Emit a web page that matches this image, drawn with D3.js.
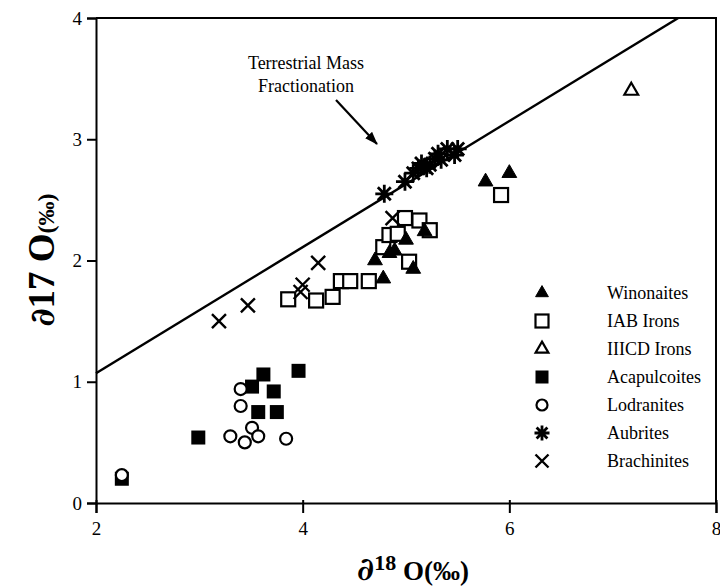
<!DOCTYPE html>
<html><head><meta charset="utf-8">
<script src="https://cdn.jsdelivr.net/npm/d3@7"></script>
<style>body{margin:0;background:#fff}svg{display:block}svg text{font-family:"Liberation Serif","DejaVu Serif","Times New Roman",serif}</style>
</head><body>
<svg id="c" width="720" height="587"></svg>
<script>
const xTicks = [2, 4, 6, 8];
const yTicks = [0, 1, 2, 3, 4];
const winonaites = [[4.70,2.00],[4.78,1.85],[4.84,2.06],[4.89,2.08],[5.00,2.17],[5.07,1.93],[5.18,2.24],[5.77,2.65],[6.00,2.72]];
const iabIrons = [[3.86,1.68],[4.13,1.67],[4.29,1.70],[4.37,1.83],[4.46,1.83],[4.64,1.83],[4.78,2.11],[4.84,2.21],[4.92,2.22],[4.99,2.35],[5.03,1.99],[5.13,2.33],[5.23,2.25],[5.92,2.54]];
const iiicdIrons = [[7.18,3.40]];
const acapulcoites = [[2.25,0.20],[2.99,0.54],[3.51,0.96],[3.57,0.75],[3.62,1.06],[3.72,0.92],[3.75,0.75],[3.96,1.09]];
const lodranites = [[2.25,0.23],[3.30,0.55],[3.40,0.94],[3.40,0.80],[3.44,0.50],[3.51,0.62],[3.57,0.55],[3.84,0.53]];
const aubrites = [[4.79,2.55],[4.99,2.65],[5.07,2.72],[5.12,2.76],[5.15,2.80],[5.20,2.76],[5.23,2.79],[5.28,2.84],[5.31,2.88],[5.34,2.83],[5.40,2.92],[5.47,2.87],[5.50,2.92]];
const brachinites = [[3.19,1.50],[3.47,1.63],[3.98,1.74],[4.00,1.80],[4.15,1.98],[4.87,2.35]];
const tfl = {slope: 0.52, intercept: 0.03};
const legendNames = ["Winonaites","IAB Irons","IIICD Irons","Acapulcoites","Lodranites","Aubrites","Brachinites"];

const svg = d3.select("#c");
const x = d3.scaleLinear().domain([2,8]).range([96,716]);
const y = d3.scaleLinear().domain([0,4]).range([503,18]);

// frame top/right
svg.append("path").attr("d",`M${x(2)},${y(4)}H${x(8)}V${y(0)}`).attr("fill","none").attr("stroke","#000").attr("stroke-width",2);

// axes
const gx = svg.append("g").attr("transform",`translate(0,${y(0)})`)
  .call(d3.axisBottom(x).tickValues(xTicks).tickSize(10).tickPadding(9).tickFormat(d3.format("d")));
const gy = svg.append("g").attr("transform",`translate(${x(2)},0)`)
  .call(d3.axisLeft(y).tickValues(yTicks).tickSize(9).tickPadding(5).tickFormat(d3.format("d")));
[gx,gy].forEach(g=>{
  g.select(".domain").attr("stroke-width",2);
  g.selectAll(".tick line").attr("stroke-width",2);
  g.selectAll("text").attr("font-family",null).attr("font-size",19).attr("fill","#000");
});
gx.selectAll(".tick line").attr("y1",-3);

// terrestrial fractionation line
const xEnd = (4 - tfl.intercept)/tfl.slope;
svg.append("line").attr("x1",x(2)).attr("y1",y(tfl.slope*2+tfl.intercept))
  .attr("x2",x(xEnd)).attr("y2",y(4)).attr("stroke","#000").attr("stroke-width",2.5);

// annotation
const ann = svg.append("text").attr("font-size",18).attr("text-anchor","middle");
ann.append("tspan").attr("x",306).attr("y",69).text("Terrestrial Mass");
ann.append("tspan").attr("x",306).attr("y",92).text("Fractionation");
svg.append("defs").append("marker").attr("id","ah").attr("viewBox","0 0 14 10").attr("refX",13).attr("refY",5)
  .attr("markerWidth",6).attr("markerHeight",4.5).attr("orient","auto").attr("markerUnits","strokeWidth")
  .append("path").attr("d","M0,0L14,5L0,10z").attr("fill","#000");
svg.append("line").attr("x1",336).attr("y1",100).attr("x2",377).attr("y2",144)
  .attr("stroke","#000").attr("stroke-width",2.2).attr("marker-end","url(#ah)");

// marker drawers
function draw(g, type, s){
  const h = s/2;
  if(type==="tri"||type==="otri"){
    g.append("path").attr("d",d3.symbol(d3.symbolTriangle, s*s*0.42)())
      .attr("fill", type==="tri"?"#000":"#fff").attr("stroke","#000").attr("stroke-width",type==="tri"?1:2.2);
  } else if(type==="sq"||type==="osq"){
    g.append("rect").attr("x",-h).attr("y",-h).attr("width",s).attr("height",s)
      .attr("fill", type==="sq"?"#000":"#fff").attr("stroke","#000").attr("stroke-width",type==="sq"?0:2.2);
  } else if(type==="circ"){
    g.append("circle").attr("r",h-1).attr("fill","#fff").attr("stroke","#000").attr("stroke-width",2.2);
  } else if(type==="ast"){
    const r=h+1, d=r*0.72;
    g.append("path").attr("d",`M0,${-r}V${r}M${-r},0H${r}M${-d},${-d}L${d},${d}M${-d},${d}L${d},${-d}`)
      .attr("stroke","#000").attr("stroke-width",2.8).attr("fill","none");
  } else if(type==="x"){
    g.append("path").attr("d",`M${-h},${-h}L${h},${h}M${-h},${h}L${h},${-h}`)
      .attr("stroke","#000").attr("stroke-width",2.4).attr("fill","none");
  }
}
const series = [
  {data: acapulcoites, type:"sq", s:14},
  {data: lodranites, type:"circ", s:14},
  {data: iabIrons, type:"osq", s:14},
  {data: winonaites, type:"tri", s:15},
  {data: iiicdIrons, type:"otri", s:14},
  {data: brachinites, type:"x", s:14},
  {data: aubrites, type:"ast", s:16}
];
series.forEach(sr=>{
  svg.append("g").selectAll("g").data(sr.data).join("g")
    .attr("transform",d=>`translate(${x(d[0])},${y(d[1])})`)
    .each(function(){ draw(d3.select(this), sr.type, sr.s); });
});

// legend
const legendTypes = ["tri","osq","otri","sq","circ","ast","x"];
const ly = d3.scalePoint().domain(legendNames).range([293,461]);
const lg = svg.append("g");
legendNames.forEach((n,i)=>{
  const g = lg.append("g").attr("transform",`translate(542,${ly(n)})`);
  draw(g, legendTypes[i], 13);
  lg.append("text").attr("x",607).attr("y",ly(n)+6).attr("font-size",18).text(n);
});

// axis titles
const xt = svg.append("text").attr("x",413).attr("y",580).attr("text-anchor","middle").attr("font-weight","bold");
xt.append("tspan").attr("font-size",32).style("font-family","'DejaVu Serif'").text("∂");
xt.append("tspan").attr("font-size",22).attr("dy",-10).text("18");
xt.append("tspan").attr("font-size",27).attr("dy",10).text(" O(‰)");

const yt = svg.append("text").attr("transform","translate(54,260) rotate(-90)").attr("text-anchor","middle").attr("font-weight","bold");
yt.append("tspan").attr("font-size",34).style("font-family","'DejaVu Serif'").text("∂");
yt.append("tspan").attr("font-size",37).text("17 O");
yt.append("tspan").attr("font-size",24).text("(‰)");
</script>
</body></html>
